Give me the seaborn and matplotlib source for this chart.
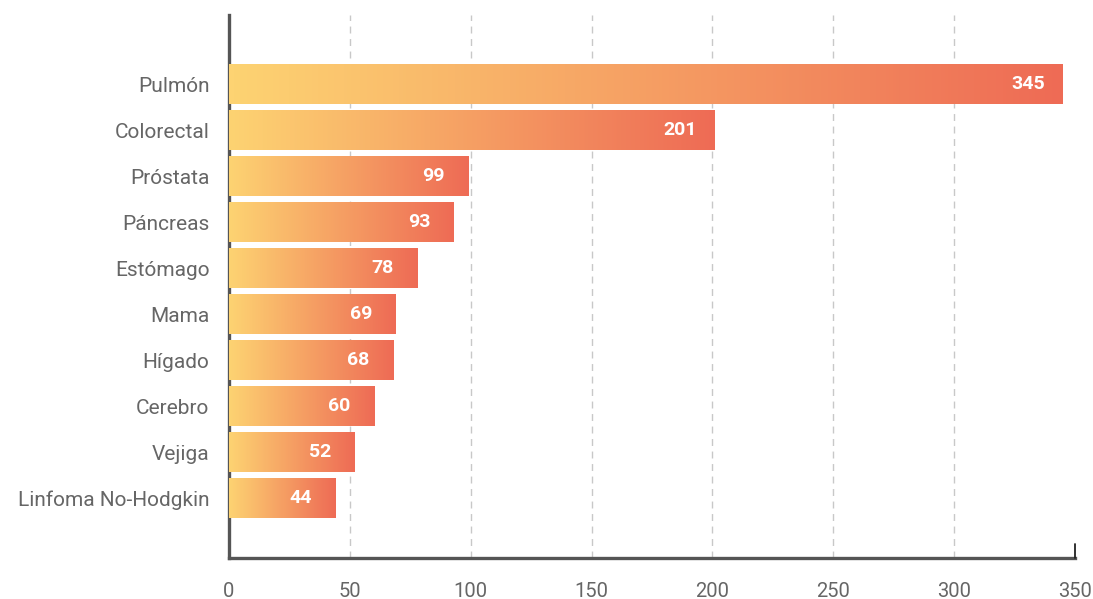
import numpy as np
import pandas as pd
import seaborn as sns
import matplotlib.pyplot as plt
from matplotlib.colors import LinearSegmentedColormap

# tipos de cáncer y número de casos
cancer_types = ["Pulmón", "Colorectal", "Próstata", "Páncreas", "Estómago",
                "Mama", "Hígado", "Cerebro", "Vejiga", "Linfoma No-Hodgkin"]
cases = [345, 201, 99, 93, 78, 69, 68, 60, 52, 44]
x_ticks = [0, 50, 100, 150, 200, 250, 300, 350]

df = pd.DataFrame({"tipo": cancer_types, "casos": cases})

sns.set_style("white")
plt.rcParams["font.family"] = ["Roboto", "DejaVu Sans"]

fig = plt.figure(figsize=(10.93, 5.99), dpi=100)
ax = fig.add_axes([0.2095, 0.0684, 0.774, 0.9066])

sns.barplot(data=df, x="casos", y="tipo", orient="h", width=0.87,
            color="#f5a868", ax=ax, zorder=3)

# degradado amarillo -> rojo en cada barra
cmap = LinearSegmentedColormap.from_list("grad", ["#fdd372", "#ee6b55"])
grad = np.linspace(0, 1, 256).reshape(1, -1)
for patch in ax.patches:
    x0, y0 = patch.get_x(), patch.get_y()
    w, h = patch.get_width(), patch.get_height()
    im = ax.imshow(grad, cmap=cmap, aspect="auto", zorder=3,
                   extent=[x0, x0 + w, y0 + h, y0], interpolation="bilinear")
    im.set_clip_path(patch)
    patch.set_facecolor("none")
    patch.set_edgecolor("none")

for i, v in enumerate(cases):
    ax.annotate(str(v), xy=(v, i), xytext=(-25, 0), textcoords="offset points",
                ha="center", va="center", color="white", fontsize=14,
                fontweight="bold", zorder=5)

ax.set_xlim(0, 350)
ax.set_ylim(10.3, -1.5)
ax.set_xticks(x_ticks)
ax.set_xlabel("")
ax.set_ylabel("")

ax.grid(axis="x", linestyle=(0, (5, 4)), color="#c8c8c8", linewidth=1, zorder=0)
ax.grid(axis="y", visible=False)
ax.set_axisbelow(True)
# sin línea de rejilla en 0 ni en 350
for t, gl in zip(ax.get_xticks(), ax.get_xgridlines()):
    if t in (0, 350):
        gl.set_visible(False)

for s in ["top", "right"]:
    ax.spines[s].set_visible(False)
for s in ["left", "bottom"]:
    ax.spines[s].set_color("#555555")
    ax.spines[s].set_linewidth(2.4)

ax.tick_params(axis="x", length=0, pad=17, labelsize=14.5, labelcolor="#666666")
ax.tick_params(axis="y", length=0, pad=14, labelsize=15, labelcolor="#666666")

# marca final en 350
ax.plot([350, 350], [10.3, 10.0], color="#222222", lw=1.3, clip_on=False, zorder=6)

fig.savefig("out.png", dpi=100)
